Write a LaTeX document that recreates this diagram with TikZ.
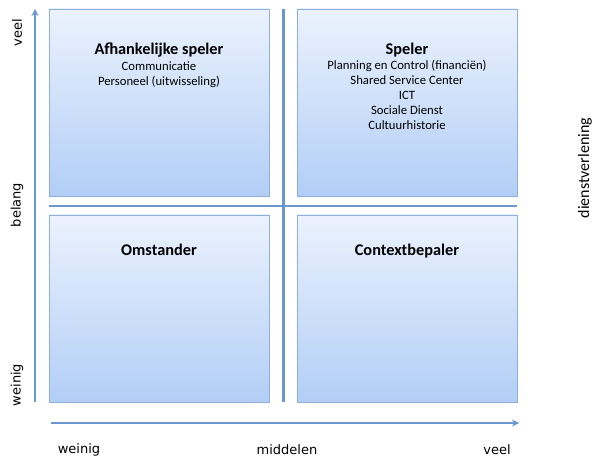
\documentclass[tikz,border=0pt]{standalone}
\usepackage{fontspec}
\setmainfont{Carlito}
\newfontfamily\axisfont{DejaVu Sans}
\usetikzlibrary{shadows,arrows.meta}
\definecolor{boxtop}{HTML}{EBF2FD}
\definecolor{boxbot}{HTML}{B2CEF6}
\definecolor{boxline}{HTML}{8CAED8}
\definecolor{axline}{HTML}{6A98CE}
\tikzset{
  quad/.style={draw=boxline, line width=0.9pt, top color=boxtop, bottom color=boxbot,
    drop shadow={shadow xshift=1pt, shadow yshift=-1pt, opacity=0.25}},
  axis/.style={draw=axline, line width=2.2pt,
    drop shadow={shadow xshift=0.8pt, shadow yshift=-0.8pt, opacity=0.2}},
  arr/.style={-{Stealth[length=7pt,width=7pt]}},
  ttl/.style={anchor=base, font=\fontsize{16.3}{18}\selectfont\bfseries},
  itm/.style={anchor=base, font=\fontsize{12.7}{15}\selectfont},
  axl/.style={font=\axisfont\fontsize{13}{15}\selectfont},
}
\begin{document}
\begin{tikzpicture}[x=1pt,y=-1pt]
\useasboundingbox (0,0) rectangle (597,462);
% boxes
\path[quad] (49,9) rectangle (269,196);
\path[quad] (297,9) rectangle (517,196);
\path[quad] (49,215) rectangle (269,402);
\path[quad] (297,215) rectangle (517,402);
% coordinates for lines
\coordinate (hl) at (49,206);
\coordinate (hr) at (517,206);
\coordinate (vt) at (283.5,9);
\coordinate (vb) at (283.5,402);
\coordinate (ya0) at (35,402);
\coordinate (ya1) at (35,9);
\coordinate (xa0) at (51,423);
\coordinate (xa1) at (519,423);
\path[axis] (hl) -- (hr);
\path[axis] (vt) -- (vb);
\path[axis,arr] (ya0) -- (ya1);
\path[axis,arr] (xa0) -- (xa1);
% box texts
\node[ttl] (t1) at (159,55) {Afhankelijke speler};
\node[itm] (t1a) at (159,71) {Communicatie};
\node[itm] (t1b) at (159,86) {Personeel (uitwisseling)};
\node[ttl] (t2) at (407,54.5) {Speler};
\node[itm] (t2a) at (407,69.5) {Planning en Control (financiën)};
\node[itm] (t2b) at (407,84.5) {Shared Service Center};
\node[itm] (t2c) at (407,99.5) {ICT};
\node[itm] (t2d) at (407,114.5) {Sociale Dienst};
\node[itm] (t2e) at (407,129.5) {Cultuurhistorie};
\node[ttl] (t3) at (159,256) {Omstander};
\node[ttl] (t4) at (407,256) {Contextbepaler};
% axis labels
\node[axl,rotate=90] (lv) at (17,33) {veel};
\node[axl,rotate=90] (lb) at (17,205) {belang};
\node[axl,rotate=90] (lw) at (17,385) {weinig};
\node[axl] (bw) at (79,450) {weinig};
\node[axl] (bm) at (287,450) {middelen};
\node[axl] (bv) at (497,450) {veel};
\node[rotate=90, font=\fontsize{16}{18}\selectfont] (ds) at (585,168) {dienstverlening};
\end{tikzpicture}
\end{document}
